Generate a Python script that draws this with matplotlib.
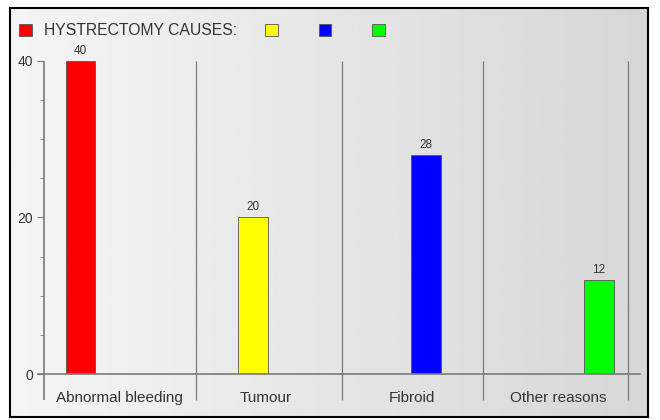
import matplotlib
matplotlib.use("Agg")
import matplotlib.pyplot as plt
import numpy as np
from matplotlib.patches import Rectangle

# data
categories = ['Abnormal bleeding', 'Tumour', 'Fibroid', 'Other reasons']
values = [40, 20, 28, 12]
colors = ['#ff0000', '#ffff00', '#0000ff', '#00ff00']
legend_title = 'HYSTRECTOMY CAUSES:'
y_ticks = [0, 20, 40]

plt.rcParams['font.family'] = ['Liberation Sans', 'DejaVu Sans']
txt = '#333333'
grey = '#7a7a7a'

fig = plt.figure(figsize=(6.6, 4.2), dpi=100)
W, H = 660, 420

# gradient background inside the frame
bx0, by0, bx1, by1 = 10, 8, 648, 417
bg = fig.add_axes([bx0 / W, 1 - by1 / H, (bx1 - bx0) / W, (by1 - by0) / H])
grad = np.linspace(0.96, 0.84, 256).reshape(1, -1)
bg.imshow(grad, aspect='auto', cmap='gray', vmin=0, vmax=1, extent=[0, 1, 0, 1])
bg.set_xticks([])
bg.set_yticks([])
for s in bg.spines.values():
    s.set_color('black')
    s.set_linewidth(1.5)

# main axes
ax_l, ax_r, ax_t, ax_b = 44, 640, 61, 374
ax = fig.add_axes([ax_l / W, 1 - ax_b / H, (ax_r - ax_l) / W, (ax_b - ax_t) / H])
ax.set_facecolor('none')
group_px = 146
ax.set_xlim(0, (ax_r - ax_l) / group_px)
ax.set_ylim(0, 40)

offsets = [0.25 + j * 0.183 for j in range(len(values))]
bar_w = 0.205
for j, (v, c) in enumerate(zip(values, colors)):
    b = ax.bar(j + offsets[j], v, width=bar_w, color=c, edgecolor='#555555', linewidth=0.6, zorder=3)
    ax.bar_label(b, labels=[str(v)], padding=3, fontsize=8.5, color=txt)

# group separators and axis lines
ax.vlines([0], -3.3, 40, colors=grey, lw=1.2, clip_on=False, zorder=2)
ax.vlines([1.04, 2.04, 3.01, 4.0], -3.3, 40, colors=grey, lw=0.9, clip_on=False, zorder=2)
ax.plot([-0.04, (ax_r - ax_l) / group_px], [0, 0], color=grey, lw=1.2, clip_on=False, zorder=4)

for s in ax.spines.values():
    s.set_visible(False)

ax.set_yticks(y_ticks)
ax.set_yticks(range(0, 41, 5), minor=True)
ax.tick_params(axis='y', which='major', length=5, color=grey, labelsize=10, labelcolor=txt, pad=3)
ax.tick_params(axis='y', which='minor', length=3, color=grey)
ax.set_xticks([i + 0.52 for i in range(len(categories))])
ax.set_xticklabels(categories)
ax.tick_params(axis='x', length=0, labelsize=11, labelcolor=txt, pad=12)

# legend row
handles = [Rectangle((0, 0), 1, 1, facecolor=c, edgecolor='#555555', lw=0.6) for c in colors]
labels = [legend_title, '', '', '']
fig.legend(handles, labels, loc='upper left', bbox_to_anchor=(5 / W, 1 - 9 / H), ncol=4,
           frameon=False, fontsize=11.3, handlelength=0.8, handleheight=0.8,
           handletextpad=0.8, columnspacing=1.8, labelcolor=txt)

fig.savefig('out.png', dpi=100)
